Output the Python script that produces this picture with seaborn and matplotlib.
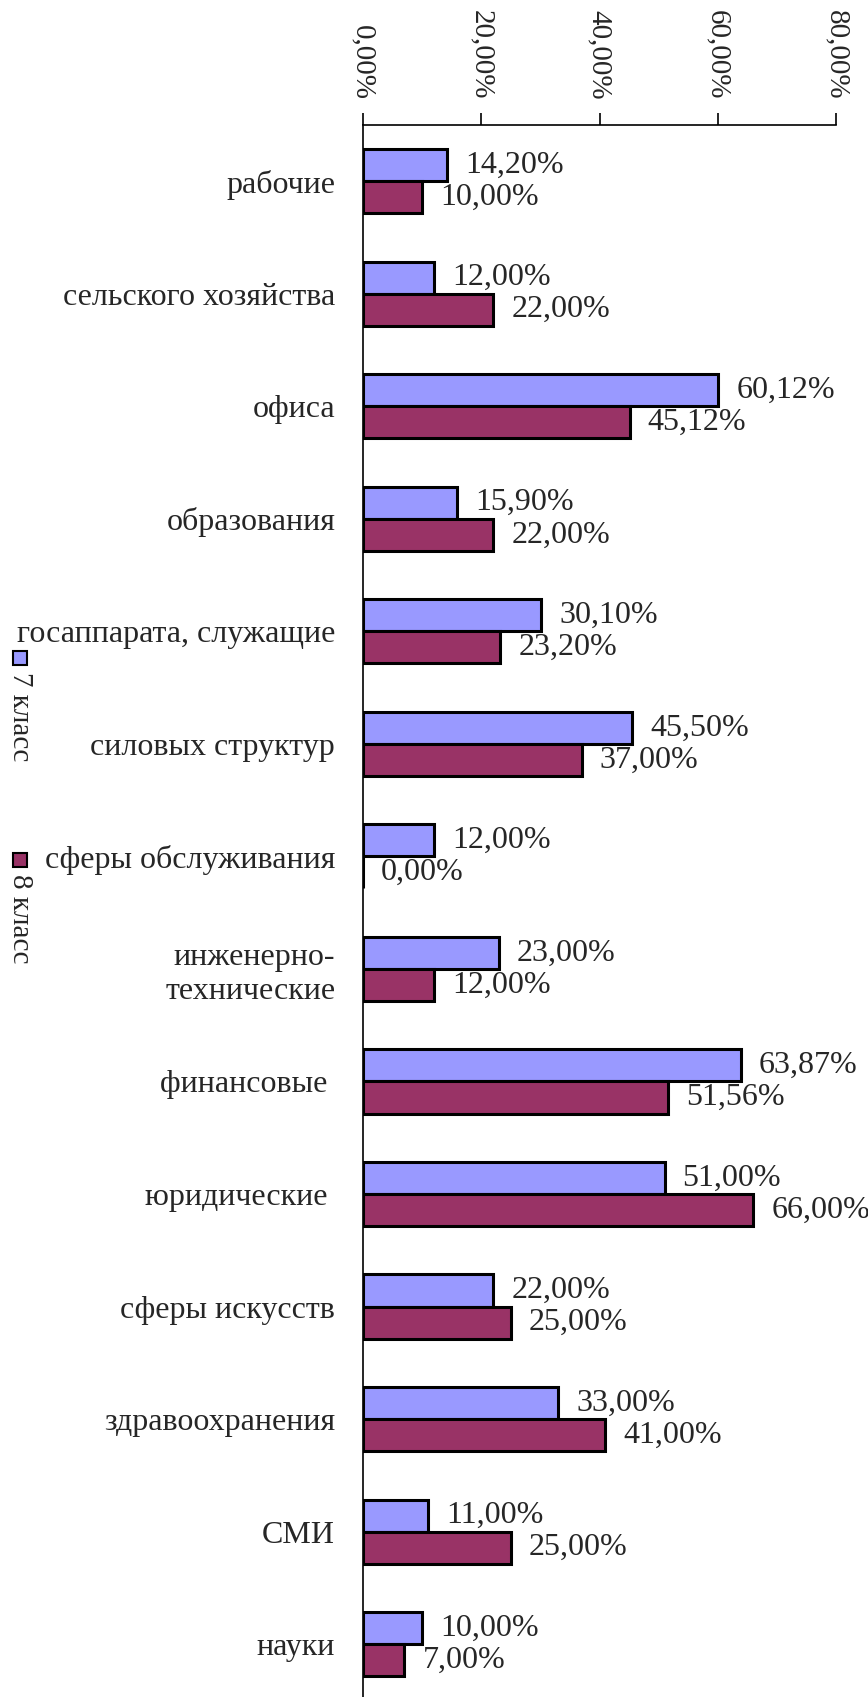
import pandas as pd
import matplotlib.pyplot as plt
import seaborn as sns
from matplotlib.patches import Rectangle
from matplotlib.ticker import FuncFormatter, FixedLocator

# Данные
categories = ['рабочие', 'сельского хозяйства', 'офиса', 'образования',
              'госаппарата, служащие', 'силовых структур', 'сферы обслуживания',
              'инженерно-\nтехнические', 'финансовые ', 'юридические ',
              'сферы искусств', 'здравоохранения', 'СМИ', 'науки']
grade7 = [14.20, 12.00, 60.12, 15.90, 30.10, 45.50, 12.00, 23.00, 63.87, 51.00,
          22.00, 33.00, 11.00, 10.00]
grade8 = [10.00, 22.00, 45.12, 22.00, 23.20, 37.00, 0.00, 12.00, 51.56, 66.00,
          25.00, 41.00, 25.00, 7.00]
series = ['7 класс', '8 класс']
colors = ['#9999FF', '#993366']

df = pd.DataFrame({
    'категория': categories * 2,
    'доля': grade7 + grade8,
    'класс': [series[0]] * len(categories) + [series[1]] * len(categories),
})

sns.set_style('white')
plt.rcParams['font.family'] = ['Liberation Serif', 'DejaVu Serif']
fs = 23
fs_small = 21

fig = plt.figure(figsize=(8.68, 16.97), dpi=100)
ax = fig.add_axes([363 / 868, 0.0, (836 - 363) / 868, 1 - 125 / 1697])

sns.barplot(data=df, y='категория', x='доля', hue='класс', orient='h',
            palette=colors, width=0.57, gap=0, edgecolor='black', linewidth=2.2,
            saturation=1, legend=False, ax=ax)

ax.set_xlim(0, 80)
ax.set_ylim(13.47, -0.5)
ax.set_xlabel('')
ax.set_ylabel('')

# Ось X сверху
ax.xaxis.tick_top()
ax.set_xticks([0, 20, 40, 60, 80])
ax.xaxis.set_major_formatter(FuncFormatter(lambda v, p: f'{v:.2f}'.replace('.', ',') + '%'))
ax.tick_params(axis='x', which='major', direction='out', length=9, width=1.2,
               pad=9, labelsize=fs_small, labelrotation=270, color='black')

# Ось Y: подписи без штрихов, штрихи между категориями
ax.tick_params(axis='y', which='major', length=0, pad=20, labelsize=fs)
ax.yaxis.set_minor_locator(FixedLocator([i - 0.5 for i in range(len(categories) + 1)]))
ax.tick_params(axis='y', which='minor', direction='out', length=9, width=1.2, color='black')

for side in ['right', 'bottom']:
    ax.spines[side].set_visible(False)
for side in ['top', 'left']:
    ax.spines[side].set_color('black')
    ax.spines[side].set_linewidth(1.2)

# Подписи значений
for cont in ax.containers:
    labels = [f'{b.get_width():.2f}'.replace('.', ',') + '%' for b in cont]
    ax.bar_label(cont, labels=labels, padding=13, fontsize=fs)

# Легенда (вертикальная, слева)
for i, (name, col) in enumerate(zip(series, colors)):
    y_mark = [658, 860][i]
    fig.patches.append(Rectangle((13 / 868, 1 - (y_mark + 7) / 1697), 14 / 868, 14 / 1697,
                                 transform=fig.transFigure, facecolor=col,
                                 edgecolor='black', linewidth=1.5))
    fig.text(20 / 868, 1 - (y_mark + 14) / 1697, name, rotation=270,
             ha='center', va='top', fontsize=fs_small)

plt.savefig('out.png', dpi=100)
